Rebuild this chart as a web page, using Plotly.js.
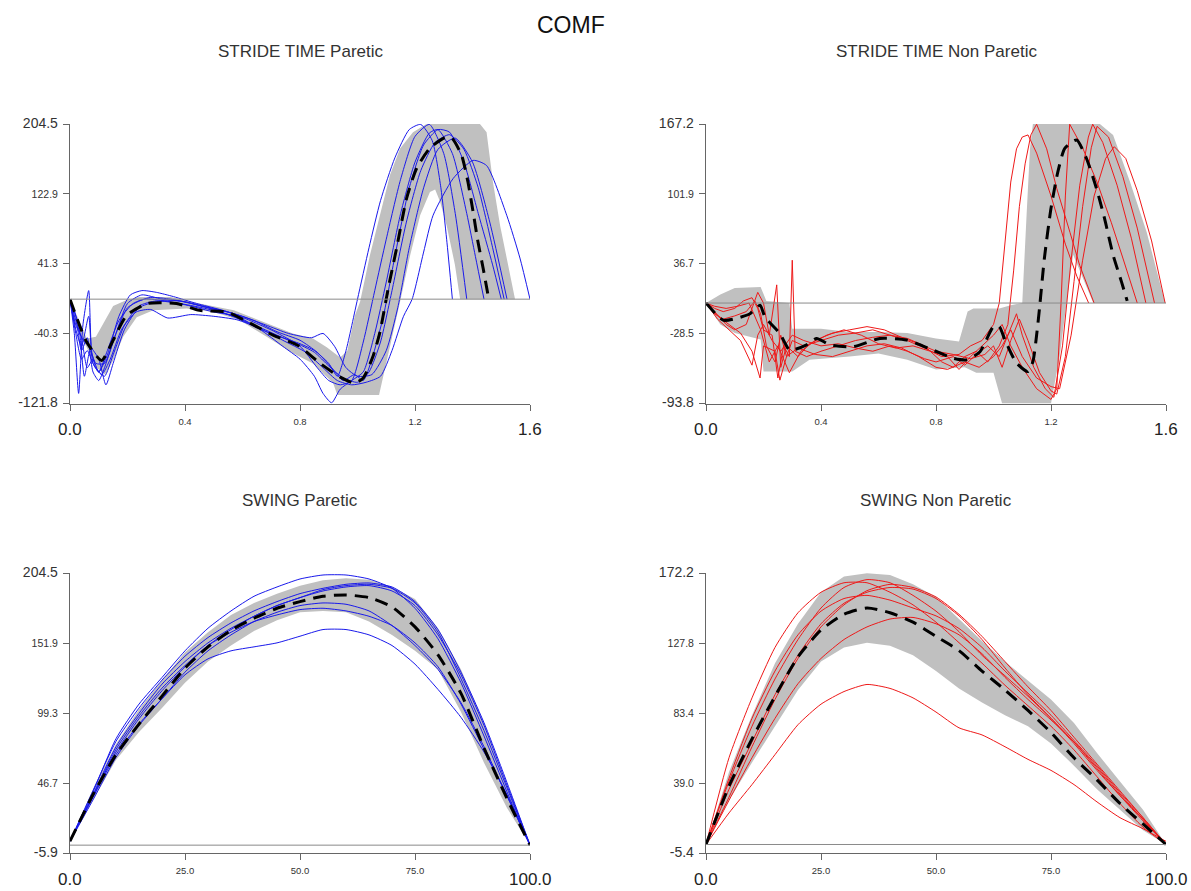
<!DOCTYPE html>
<html>
<head>
<meta charset="utf-8">
<script src="https://cdn.plot.ly/plotly-3.0.1.min.js"></script>
<style>html,body{margin:0;padding:0;background:#fff;}#chart{width:1191px;height:891px;}</style>
</head>
<body>
<div id="chart"></div>
<script>
// ---------- STRIDE TIME Paretic (x in s) ----------
const spX1 = [0,0.02,0.04,0.06,0.08,0.1,0.13,0.17,0.22,0.28,0.35,0.42,0.5,0.58,0.66,0.74,0.8,0.85,0.9,0.93,0.96,1.0,1.04,1.08,1.13,1.18,1.22,1.26,1.29,1.31,1.33];
const spY1 = [0,-40,-70,-60,-75,-85,-60,-25,-5,2,0,-5,-12,-22,-35,-45,-52,-60,-75,-90,-60,0,60,115,165,198,204,185,130,70,0];
const spX2 = [0,0.015,0.03,0.045,0.065,0.075,0.09,0.12,0.15,0.19,0.24,0.3,0.38,0.46,0.55,0.64,0.72,0.8,0.86,0.9,0.94,0.98,1.02,1.06,1.1,1.15,1.2,1.25,1.3,1.34,1.38];
const spY2 = [0,-40,-110,-30,10,-60,-80,-90,-65,-30,-8,-2,-5,-10,-18,-30,-42,-55,-80,-95,-100,-95,-50,10,70,140,190,204,170,100,0];
const spX3 = [0,0.02,0.04,0.06,0.08,0.1,0.12,0.16,0.2,0.26,0.33,0.42,0.5,0.58,0.66,0.74,0.8,0.85,0.88,0.91,0.94,0.98,1.02,1.06,1.1,1.15,1.2,1.25,1.28,1.33,1.38,1.41,1.44];
const spY3 = [0,-20,-60,-45,-85,-95,-80,-40,-10,0,-2,-8,-15,-20,-35,-55,-70,-90,-110,-121,-105,-95,-85,-40,20,100,160,194,198,170,100,50,0];
const spX4 = [0,0.02,0.05,0.07,0.1,0.125,0.15,0.19,0.24,0.3,0.38,0.46,0.54,0.62,0.7,0.78,0.85,0.9,0.95,1.0,1.04,1.08,1.12,1.17,1.22,1.27,1.32,1.37,1.42,1.47,1.51];
const spY4 = [0,-30,-50,-55,-70,-100,-75,-35,-10,-3,-2,-8,-14,-24,-36,-50,-62,-78,-92,-97,-85,-50,10,90,150,183,192,175,130,60,0];
const spX5 = [0,0.02,0.04,0.06,0.08,0.1,0.13,0.17,0.21,0.25,0.3,0.36,0.44,0.52,0.6,0.68,0.76,0.84,0.88,0.92,0.96,1.0,1.05,1.1,1.14,1.18,1.23,1.28,1.34,1.4,1.46,1.52];
const spY5 = [0,-25,-45,-80,-70,-85,-65,-20,5,10,8,3,-5,-12,-20,-30,-40,-45,-40,-55,-80,-90,-88,-60,-10,60,130,175,188,160,90,0];
const spX6 = [0,0.02,0.04,0.065,0.08,0.11,0.14,0.18,0.23,0.28,0.34,0.42,0.5,0.58,0.66,0.74,0.82,0.88,0.93,0.98,1.03,1.08,1.12,1.16,1.19,1.23,1.263,1.333,1.402,1.449,1.519,1.565,1.6];
const spY6 = [0,-35,-55,-20,-75,-88,-70,-35,-15,-12,-22,-18,-20,-24,-34,-48,-62,-80,-95,-100,-97,-90,-60,-20,0,55,98,141,162,156,98,48,0];
const spX7 = [0,0.03,0.05,0.07,0.09,0.12,0.16,0.2,0.25,0.32,0.4,0.48,0.56,0.64,0.72,0.8,0.86,0.91,0.95,0.99,1.02,1.05,1.09,1.13,1.18,1.23,1.28,1.32,1.37,1.42,1.47,1.5];
const spY7 = [0,-30,-90,-60,-75,-75,-40,-5,5,0,-3,-10,-16,-25,-38,-48,-62,-80,-95,-88,-95,-70,-20,50,130,180,198,195,160,100,40,0];
const spMeanX = [0,0.058,0.11,0.15,0.197,0.27,0.37,0.45,0.545,0.626,0.706,0.793,0.87,0.94,0.99,1.02,1.055,1.078,1.107,1.136,1.171,1.206,1.252,1.304,1.328,1.362,1.384,1.402,1.419,1.437,1.455];
const spMeanY = [0,-50,-71.5,-48,-19,-5,-5,-13,-15,-28,-42,-54,-75,-91,-98,-92,-65.7,-38.4,12.7,59.5,118,153,176.4,188.5,188,168,137,102,67,36,3];
const spBandX = [0,0.03,0.058,0.09,0.116,0.15,0.197,0.24,0.35,0.45,0.57,0.66,0.775,0.845,0.893,0.94,0.965,0.99,1.009,1.043,1.078,1.113,1.148,1.193,1.24,1.426,1.449,1.471,1.496,1.523,1.548,1.357,1.339,1.31,1.287,1.27,1.252,1.218,1.183,1.148,1.113,1.078,1.075,0.93,0.915,0.845,0.776,0.684,0.59,0.5,0.406,0.29,0.232,0.185,0.15,0.122,0.093,0.058,0.01,0];
const spBandY = [0,-25,-46,-44,-28,-8,-1,2.5,2.5,-5,-13,-24.7,-40,-46,-56,-68,-60,-20,-3,51,98,145,176,195,204.5,204.5,195,137,86,39.6,0,0,40,86,114,128,125,98,51,-3,-57,-108,-112,-112,-98,-75,-63,-44,-24.7,-15,-11,-13,-21,-44,-71.5,-88,-80,-56,-24.7,0];
const spYTicks = [-121.8,-40.3,41.3,122.9,204.5];

// ---------- STRIDE TIME Non Paretic ----------
const snX1 = [0,0.03,0.06,0.1,0.14,0.17,0.19,0.21,0.24,0.26,0.28,0.3,0.34,0.4,0.46,0.52,0.58,0.64,0.7,0.76,0.82,0.88,0.92,0.96,1.0,1.02,1.04,1.06,1.08,1.1,1.12,1.15,1.2,1.25,1.29,1.331];
const snY1 = [0,-10,-15,-12,-8,2,-10,-40,-55,-30,-50,-35,-40,-35,-30,-28,-25,-30,-35,-42,-50,-48,-40,-35,-20,0,55,113,144,155,157,140,100,55,25,0];
const snX2 = [0,0.03,0.06,0.1,0.13,0.16,0.18,0.2,0.23,0.25,0.27,0.29,0.3,0.31,0.35,0.4,0.46,0.52,0.58,0.64,0.7,0.76,0.82,0.86,0.9,0.94,0.98,1.02,1.05,1.07,1.09,1.11,1.13,1.15,1.185,1.22,1.266,1.3,1.35];
const snY2 = [0,-5,-8,-5,2,5,-5,-25,-30,-70,-40,-50,40,-45,-50,-45,-40,-35,-32,-30,-33,-40,-55,-60,-50,-45,-55,-40,-20,30,90,130,157,167,144,107,66,35,0];
const snX3 = [0,0.03,0.07,0.1,0.14,0.18,0.2,0.22,0.246,0.26,0.28,0.32,0.36,0.42,0.48,0.54,0.6,0.66,0.72,0.78,0.84,0.88,0.92,0.96,1.0,1.03,1.06,1.1,1.15,1.2,1.22,1.235,1.25,1.265,1.31,1.36,1.41,1.45,1.5];
const snY3 = [0,-8,-20,-25,-20,10,0,-30,17,-60,-40,-50,-38,-30,-25,-30,-38,-42,-40,-45,-50,-62,-50,-40,-30,-20,-40,-60,-80,-90,-80,0,100,167,145,113,75,42,0];
const snX4 = [0,0.04,0.08,0.12,0.16,0.18,0.2,0.23,0.26,0.3,0.34,0.4,0.46,0.52,0.58,0.64,0.7,0.76,0.8,0.86,0.9,0.94,0.98,1.02,1.05,1.08,1.1,1.14,1.18,1.21,1.24,1.27,1.3,1.33,1.345,1.38,1.43,1.48,1.53];
const snY4 = [0,-15,-25,-35,-58,-30,-20,-35,-45,-30,-35,-40,-38,-42,-45,-40,-45,-52,-55,-50,-58,-48,-40,-50,-30,-10,-30,-60,-80,-88,-40,40,110,155,167,150,110,60,0];
const snX5 = [0,0.03,0.07,0.11,0.15,0.19,0.22,0.25,0.29,0.33,0.38,0.44,0.5,0.56,0.62,0.68,0.74,0.8,0.86,0.92,0.97,1.0,1.03,1.06,1.09,1.12,1.16,1.2,1.22,1.25,1.28,1.31,1.34,1.36,1.4,1.45,1.5,1.56];
const snY5 = [0,-3,-5,-3,0,-25,-55,-40,-65,-45,-35,-28,-25,-22,-25,-32,-38,-45,-48,-52,-48,-40,-60,-35,-15,-35,-65,-82,-85,-50,20,90,145,165,155,118,70,0];
const snX6 = [0,0.04,0.08,0.12,0.16,0.188,0.2,0.24,0.257,0.28,0.32,0.38,0.44,0.5,0.56,0.62,0.68,0.74,0.8,0.84,0.9,0.95,1.0,1.03,1.06,1.1,1.15,1.2,1.23,1.27,1.31,1.35,1.39,1.42,1.46,1.5,1.55,1.597];
const snY6 = [0,-12,-20,-28,-45,-70,-40,-45,-72,-50,-42,-48,-50,-45,-40,-38,-42,-50,-60,-62,-55,-60,-50,-40,-25,-50,-70,-78,-80,-30,40,100,135,146,135,105,58,0];
const snMeanX = [0,0.06,0.11,0.153,0.188,0.205,0.257,0.292,0.35,0.385,0.431,0.512,0.605,0.698,0.79,0.86,0.907,0.953,1.0,1.02,1.04,1.08,1.12,1.137,1.15,1.16,1.177,1.2,1.224,1.248,1.289,1.323,1.358,1.386,1.416,1.445,1.465];
const snMeanY = [0,-16,-14,-10,-2,-13,-28.5,-44,-39,-33,-39,-40.8,-33,-34.5,-44,-51.6,-53,-45.4,-22,-22,-34.5,-56,-64,-54.8,-29.8,-5,41.8,88.5,122.7,144.5,152.3,135.2,107.2,79.2,44.9,20,2];
const snBandX = [0,0.05,0.1,0.19,0.21,0.29,0.3,0.4,0.5,0.6,0.7,0.8,0.88,0.91,0.93,1.02,1.06,1.1,1.115,1.127,1.137,1.37,1.416,1.475,1.533,1.59,1.597,1.347,1.277,1.254,1.23,1.2,1.03,1.0,0.94,0.9,0.8,0.7,0.6,0.5,0.36,0.3,0.2,0.19,0.1,0.05,0];
const snBandY = [0,8,14,15,2,0,-24,-24,-27,-27,-28,-33,-36,-8,-5,-5,-2,0,82,144.5,167.2,167.2,157,113,66,7.5,0,0,45,0,-50,-93.8,-93.8,-65,-65,-60,-62,-53,-47,-50,-53,-64,-64,-34,-28,-20,0];
const snYTicks = [-93.8,-28.5,36.7,101.9,167.2];

const strideXTicks = [0,0.4,0.8,1.2,1.6];
const strideXText = ['0.0','0.4','0.8','1.2','1.6'];

// ---------- SWING (x in % of swing) ----------
const swingX = [0,5,10,15,20,25,30,35,40,45,50,55,60,65,70,75,80,85,90,95,100];
const swPMean = [3,38,68,91,112,133,149,161.5,170.5,178,183,187,188,186,179,164,143,114,73,35,0];
const swPUp   = [3,42,76,102,124,145,160,173,182,189,195,199,200.5,199.5,194,185,163,132,92,45,2];
const swPLo   = [2,34,64,85,103,122,138,150,161,169,175,176,175,168,158,146,132,100,62,28,0];
const swP1 = [3,40,80,106,126,146,163,176,187,194,200,203,203,200,193,178,155,122,82,40,0];
const swP2 = [3,37,72,97,118,135,150,162,172,180,186,192,195,196,193,182,160,125,86,43,0];
const swP3 = [3,38,74,99,121,138,152,163,172,180,186,191,194,195,191,180,158,128,90,45,0];
const swP4 = [3,34,66,90,110,130,146,158,168,175,180,182,181,176,165,150,132,107,74,37,0];
const swP5 = [3,36,68,91,110,128,140,146,149,152,157,162,162,158,150,136,117,96,70,38,0];
const swP6 = [3,37,70,95,116,134,150,160,168,173,177,178,176,172,165,152,134,106,72,37,0];
const swP7 = [3,41,78,103,124,142,156,167,176,183,189,193,196,197,194,183,162,130,92,47,0];
const swPYTicks = [-5.9,46.7,99.3,151.9,204.5];

const swNMean = [0,37,67,94,119,136,146,150,147,141,132,123,110,98,85,71,55,41,26,13,0];
const swNUp   = [0,46,82,115,140,160,170,172,171,165,157,143,129,116,104,92,77,58,40,22,0];
const swNLo   = [0,28,52,75,98,116,125,128,126,120,110,99,90,82,75,64,50,35,22,9,0];
const swN1 = [0,20,38,57,76,89,97,101.5,99,93,84,74,69.5,62,54,47,38,27,17,10,2];
const swN2 = [0,55,93,125,147,160,166,166,160,152,141,128,115,101,88,75,60,43,26,11,0];
const swN3 = [0,40,75,105,130,150,163,168,166,158,148,135,120,107,94,80,65,48,31,15,0];
const swN4 = [0,35,65,95,120,140,153,160,163,162,156,145,130,112,95,80,64,47,31,16,0];
const swN5 = [0,28,55,80,102,118,130,138,143,144,140,133,121,106,92,79,65,49,32,16,0];
const swN6 = [0,42,80,110,133,148,156,158,155,150,145,137,125,110,96,82,66,50,33,17,0];
const swN7 = [0,30,62,92,118,138,152,161,165,163,157,146,132,116,100,85,68,51,34,17,0];
const swNYTicks = [-5.4,39.0,83.4,127.8,172.2];

const swingXTicks = [0,25,50,75,100];
const swingXText = ['0.0','25.0','50.0','75.0','100.0'];

// ---------- styling ----------
const BLUE = 'rgb(25,25,235)';
const RED = 'rgb(238,25,25)';
const GREY = 'rgb(192,192,192)';
const FONT = 'Liberation Sans, Arial, sans-serif';

function big(t, s){ return '<span style="font-size:' + s + 'px">' + t + '</span>'; }
function yTexts(vals){
  return vals.map((v,i)=> (i===0 || i===vals.length-1) ? big(v.toFixed(1), 14) : v.toFixed(1));
}
function xTexts(arr){
  return arr.map((t,i)=> (i===0 || i===arr.length-1) ? '' : t);
}

const traces = [];
function band(xs, ys, xa, ya){
  traces.push({x:xs, y:ys, xaxis:xa, yaxis:ya, type:'scatter', mode:'lines', fill:'toself',
    fillcolor:GREY, line:{width:0, color:GREY}, hoverinfo:'skip'});
}
function line(xs, ys, xa, ya, color, shape){
  traces.push({x:xs, y:ys, xaxis:xa, yaxis:ya, type:'scatter', mode:'lines',
    line:{color:color, width:1, shape:shape||'linear', smoothing:0.6}});
}
function mean(xs, ys, xa, ya){
  traces.push({x:xs, y:ys, xaxis:xa, yaxis:ya, type:'scatter', mode:'lines',
    line:{color:'#000', width:3, dash:'13px,8px', shape:'spline', smoothing:0.6}});
}

// TL
band(spBandX, spBandY, 'x', 'y');
[[spX1,spY1],[spX2,spY2],[spX3,spY3],[spX4,spY4],[spX5,spY5],[spX6,spY6],[spX7,spY7]].forEach(p=>line(p[0],p[1],'x','y',BLUE,'spline'));
mean(spMeanX, spMeanY, 'x', 'y');
// TR
band(snBandX, snBandY, 'x2', 'y2');
[[snX1,snY1],[snX2,snY2],[snX3,snY3],[snX4,snY4],[snX5,snY5],[snX6,snY6]].forEach(p=>line(p[0],p[1],'x2','y2',RED,'linear'));
mean(snMeanX, snMeanY, 'x2', 'y2');
// BL
band(swingX.concat(swingX.slice().reverse()), swPUp.concat(swPLo.slice().reverse()), 'x3', 'y3');
[swP1,swP2,swP3,swP4,swP5,swP6,swP7].forEach(a=>line(swingX,a,'x3','y3',BLUE,'spline'));
mean(swingX, swPMean, 'x3', 'y3');
// BR
band(swingX.concat(swingX.slice().reverse()), swNUp.concat(swNLo.slice().reverse()), 'x4', 'y4');
[swN1,swN2,swN3,swN4,swN5,swN6,swN7].forEach(a=>line(swingX,a,'x4','y4',RED,'spline'));
mean(swingX, swNMean, 'x4', 'y4');

function axis(domain, range, vals, texts, anchor, standoff, fsize){
  return {domain:domain, range:range, tickmode:'array', tickvals:vals, ticktext:texts,
    showline:true, linecolor:'#666', linewidth:1, ticks:'outside', ticklen:6, tickwidth:1,
    tickcolor:'#666', showgrid:false, zeroline:false, anchor:anchor, fixedrange:true,
    ticklabelstandoff:standoff,
    tickfont:{family:FONT, size:fsize, color:'#333'}};
}
const W = 1191, H = 891;
const xL = [70/W, 530/W], xR = [706/W, 1166/W];
const yT = [1-403.5/H, 1-124/H], yB = [1-853/H, 1-573/H];

// large end labels of the x axes
const endLabels = [];
function xEnds(xref, ticks, texts, ybottom){
  [0, ticks.length-1].forEach(i=>{
    endLabels.push({text:texts[i], x:ticks[i], xref:xref, xanchor:'center', y:ybottom, yref:'paper', yanchor:'middle',
      yshift:-26, showarrow:false, font:{family:FONT, size:17, color:'#222'}});
  });
}
xEnds('x', strideXTicks, strideXText, yT[0]);
xEnds('x2', strideXTicks, strideXText, yT[0]);
xEnds('x3', swingXTicks, swingXText, yB[0]);
xEnds('x4', swingXTicks, swingXText, yB[0]);

function title(text, cx, cy, size, color){
  return {text:text, x:cx/W, y:1-cy/H, xref:'paper', yref:'paper', xanchor:'center', yanchor:'middle',
    showarrow:false, font:{family:FONT, size:size, color:color}};
}
const titles = [
  title('COMF', 571, 25, 23, '#111'),
  title('STRIDE TIME Paretic', 300, 52, 17, '#333'),
  title('STRIDE TIME Non Paretic', 936, 52, 17, '#333'),
  title('SWING Paretic', 300, 500, 17, '#333'),
  title('SWING Non Paretic', 936, 500, 17, '#333')
];

const layout = {
  width:W, height:H, margin:{l:0,r:0,t:0,b:0}, paper_bgcolor:'#fff', plot_bgcolor:'#fff',
  showlegend:false, font:{family:FONT},
  xaxis: axis(xL, [0,1.6], strideXTicks, xTexts(strideXText), 'y', 3, 9.5),
  yaxis: axis(yT, [spYTicks[0], spYTicks[4]], spYTicks, yTexts(spYTicks), 'x', 3, 10.5),
  xaxis2: axis(xR, [0,1.6], strideXTicks, xTexts(strideXText), 'y2', 3, 9.5),
  yaxis2: axis(yT, [snYTicks[0], snYTicks[4]], snYTicks, yTexts(snYTicks), 'x2', 3, 10.5),
  xaxis3: axis(xL, [0,100], swingXTicks, xTexts(swingXText), 'y3', 3, 9.5),
  yaxis3: axis(yB, [swPYTicks[0], swPYTicks[4]], swPYTicks, yTexts(swPYTicks), 'x3', 3, 10.5),
  xaxis4: axis(xR, [0,100], swingXTicks, xTexts(swingXText), 'y4', 3, 9.5),
  yaxis4: axis(yB, [swNYTicks[0], swNYTicks[4]], swNYTicks, yTexts(swNYTicks), 'x4', 3, 10.5),
  shapes: [
    {type:'line', xref:'x', yref:'y', x0:0, x1:1.6, y0:0, y1:0, line:{color:'#8a8a8a', width:1}, layer:'above'},
    {type:'line', xref:'x2', yref:'y2', x0:0, x1:1.6, y0:0, y1:0, line:{color:'#8a8a8a', width:1}, layer:'above'},
    {type:'line', xref:'x3', yref:'y3', x0:0, x1:100, y0:0, y1:0, line:{color:'#8a8a8a', width:1}, layer:'above'},
    {type:'line', xref:'x4', yref:'y4', x0:0, x1:100, y0:0, y1:0, line:{color:'#8a8a8a', width:1}, layer:'above'}
  ],
  annotations: titles.concat(endLabels)
};

Plotly.newPlot('chart', traces, layout, {staticPlot:true, displayModeBar:false});
</script>
</body>
</html>
